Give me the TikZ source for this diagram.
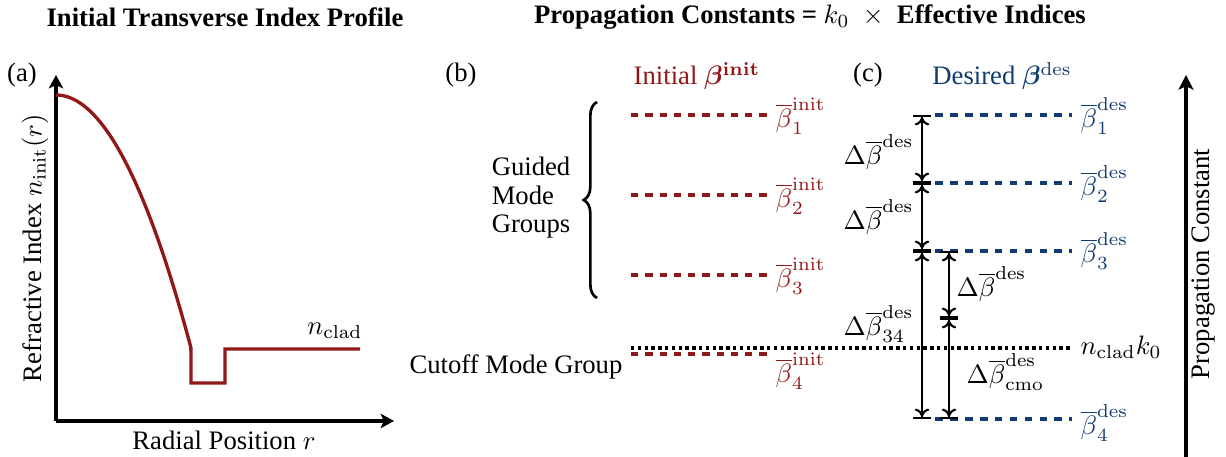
\documentclass[tikz,border=0pt]{standalone}
\usepackage{amsmath,bm}
\usepackage[no-math]{fontspec}
\setmainfont{Liberation Serif}
\usetikzlibrary{arrows.meta,decorations.pathreplacing}

\definecolor{initred}{RGB}{145,24,24}
\definecolor{desblue}{RGB}{16,60,112}

\tikzset{
  axisline/.style={line width=1.3pt,-{Stealth[length=5pt,width=5.4pt,inset=1.2pt]}},
  profile/.style={line width=1.25pt,initred,line join=miter},
  initline/.style={line width=1.45pt,initred,dash pattern=on 2.75pt off 2.6pt},
  desline/.style={line width=1.45pt,desblue,dash pattern=on 2.9pt off 2.7pt},
  cutline/.style={line width=1.3pt,black,dash pattern=on 1.25pt off 1.3pt},
  dimline/.style={line width=0.8pt,{Bar[width=6.6pt,line width=0.9pt]To[length=3pt,width=5.4pt]}-{To[length=3pt,width=5.4pt]Bar[width=6.6pt,line width=0.9pt]}},
  lbl/.style={inner sep=0pt,anchor=west},
  bigarrow/.style={line width=1.45pt,-{Stealth[length=5.5pt,width=5.6pt,inset=1.3pt]}},
  heading/.style={font=\bfseries,inner sep=0pt}
}

\begin{document}
\begin{tikzpicture}[x=0.375pt,y=-0.375pt]
\useasboundingbox (0,0) rectangle (1226,457);

% headings
\node[heading] (titleA) at (225,17) {Initial Transverse Index Profile};
\node[heading] (titleB) at (810,17) {Propagation Constants = $k_0\enspace\times\enspace$Effective Indices};

% ---------- (a) index profile ----------
\node (pa) at (22,75) {(a)};
\coordinate (origin) at (56,421);
\coordinate (ytop) at (56,75);
\coordinate (xend) at (394,421);
\draw[axisline] (origin) -- (ytop);
\draw[axisline] (origin) -- (xend);
\node[rotate=90] (ylab) at (35,248) {Refractive Index $n_{\mathrm{init}}(r)$};
\node (xlab) at (224,440) {Radial Position $r$};

\coordinate (trenchL) at (191,383);
\coordinate (trenchR) at (225,383);
\coordinate (cladL) at (225,349);
\coordinate (cladR) at (360,349);
\draw[profile] plot[domain=0:1,samples=60] ({56+135*\x},{95+253*\x*\x})
  -- (trenchL) -- (trenchR) -- (cladL) -- (cladR);
\node (ncladA) at (335,331) {$n_{\mathrm{clad}}$};

% ---------- (b) initial propagation constants ----------
\node (pb) at (461,75) {(b)};
\node[initred] (headB) at (697,76) {Initial $\bm{\beta}^{\mathbf{init}}$};

\foreach \i/\y/\ly in {1/115/116, 2/195/196, 3/275/276} {
  \coordinate (bi\i s) at (631,\y);
  \coordinate (bi\i e) at (767,\y);
  \draw[initline] (bi\i s) -- (bi\i e);
  \node[lbl,initred] (lbi\i) at (775,\ly) {$\overline{\beta}_{\i}^{\mathrm{init}}$};
}
\coordinate (bi4s) at (631,354);
\coordinate (bi4e) at (767,354);
\draw[initline] (bi4s) -- (bi4e);
\node[lbl,initred] (lbi4) at (775,371) {$\overline{\beta}_{4}^{\mathrm{init}}$};

\coordinate (braceB) at (597,298);
\coordinate (braceT) at (597,102);
\draw[line width=1pt,decorate,decoration={brace,amplitude=5pt}] (braceB) -- (braceT);
\node[align=left,font=\fontsize{10}{10.7}\selectfont] (guided) at (531,198) {Guided\\Mode\\Groups};
\node (cutoff) at (516,367) {Cutoff Mode Group};

% cladding cutoff level
\coordinate (cuts) at (631,348);
\coordinate (cute) at (1070,348);
\draw[cutline] (cuts) -- (cute);
\node[lbl] (ncladk) at (1080,347) {$n_{\mathrm{clad}}k_0$};

% ---------- (c) desired propagation constants ----------
\node (pc) at (868,75) {(c)};
\node[desblue] (headC) at (1002,76) {Desired $\bm{\beta}^{\mathrm{des}}$};

\foreach \i/\y/\ly in {1/115/116, 2/183/184, 3/251/251, 4/419/423} {
  \coordinate (bd\i s) at (935,\y);
  \coordinate (bd\i e) at (1072,\y);
  \draw[desline] (bd\i s) -- (bd\i e);
  \node[lbl,desblue] (lbd\i) at (1080,\ly) {$\overline{\beta}_{\i}^{\mathrm{des}}$};
}

% spacing dimensions
\coordinate (d1) at (922,115);
\coordinate (d2) at (922,183);
\coordinate (d3) at (922,251);
\coordinate (d4) at (922,419);
\coordinate (e3) at (949,251);
\coordinate (em) at (949,318);
\coordinate (e4) at (949,419);
\draw[dimline] (d1) -- (d2);
\draw[dimline] (d2) -- (d3);
\draw[dimline] (d3) -- (d4);
\draw[dimline] (e3) -- (em);
\draw[dimline] (em) -- (e4);

\node[inner sep=0pt,anchor=east] (dl1) at (914,152) {$\Delta\overline{\beta}^{\mathrm{des}}$};
\node[inner sep=0pt,anchor=east] (dl2) at (914,217) {$\Delta\overline{\beta}^{\mathrm{des}}$};
\node[inner sep=0pt,anchor=east] (dl34) at (914,324) {$\Delta\overline{\beta}_{34}^{\mathrm{des}}$};
\node[lbl] (dlr) at (956,284) {$\Delta\overline{\beta}^{\mathrm{des}}$};
\node[lbl] (dlcmo) at (966,372) {$\Delta\overline{\beta}_{\mathrm{cmo}}^{\mathrm{des}}$};

% propagation constant axis
\coordinate (pbot) at (1186,457);
\coordinate (ptop) at (1186,75);
\draw[bigarrow] (pbot) -- (ptop);
\node[rotate=90] (plab) at (1204,264) {Propagation Constant};
\end{tikzpicture}
\end{document}
